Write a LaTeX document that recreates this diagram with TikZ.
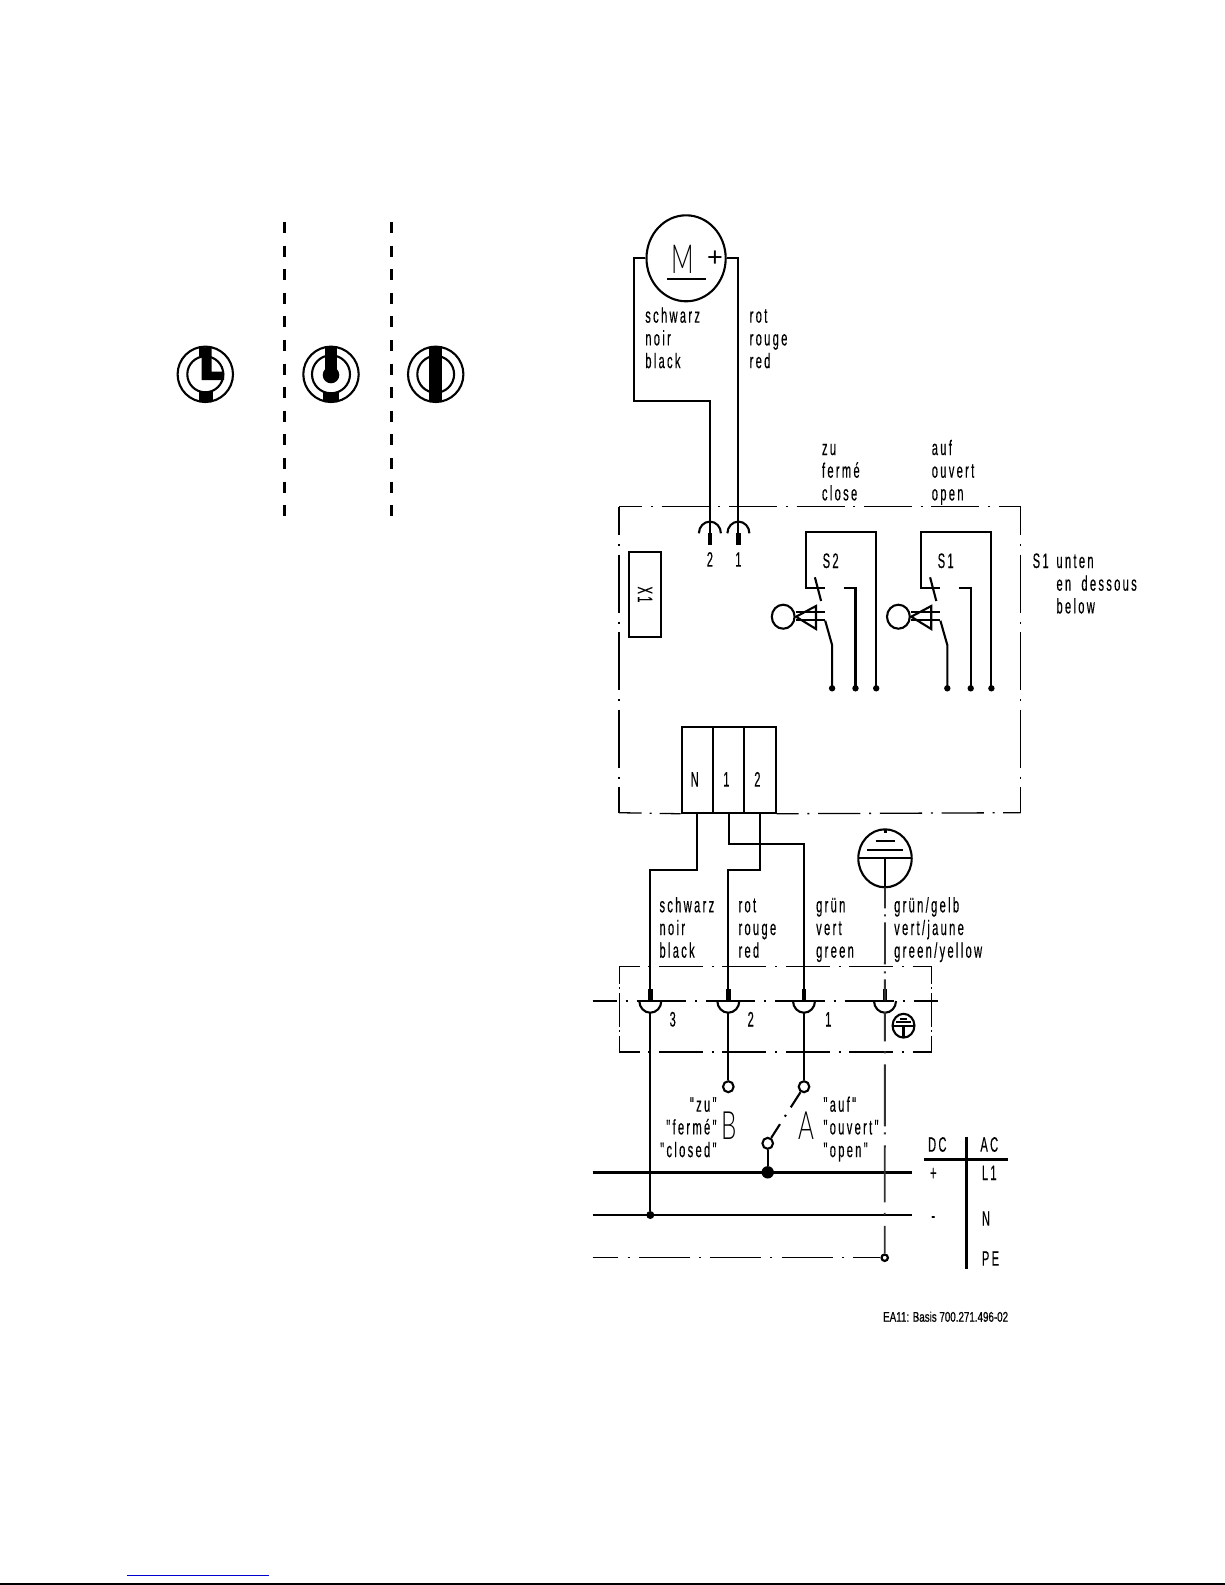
\documentclass[tikz,border=0pt]{standalone}
\usepackage{fontspec}
\usetikzlibrary{
    shapes.geometric,
    calc
}
\newfontfamily\wirefamily[FakeStretch = 0.53, LetterSpace = 11, FakeBold = 0.3, WordSpace = 1.9]{Liberation Sans}
\newfontfamily\thinfamily[FakeStretch = 0.62]{Lato Light}
\newfontfamily\notefamily[FakeStretch = 0.7, FakeBold = 0.6]{Liberation Sans}
\newfontfamily\signfamily{Liberation Sans}
\newcommand\wirefont{\wirefamily\fontsize{21}{22.7}\selectfont}
\definecolor{linkblue}{RGB}{0, 0, 204}
\tikzset {
    wire/.style = {line width = 2.1pt},
    thin wire/.style = {line width = 1.3pt},
    bus/.style = {line width = 2.8pt},
    cut line/.style = {line width = 3pt, dash pattern = on 11pt off 12.6pt},
    dash dot/.style 2 args = {
        line width = 1.3pt,
        dash pattern = on #1pt off 8.7pt on 2pt off 8.7pt,
        dash phase = #2pt
    },
    lettering/.style = {font = \wirefont, inner sep = 0pt},
    wire text/.style = {lettering, anchor = base west, align = left},
    solder/.style = {circle, fill, inner sep = 0pt, minimum size = 6.4pt},
    open end/.style = {
        ellipse, draw, fill = white, line width = 2.1pt,
        inner sep = 0pt, minimum width = 10.6pt, minimum height = 11pt
    },
    plug cell/.style = {draw, wire, inner sep = 0pt, minimum width = 31.3pt, minimum height = 86pt},
    %
    ring l/.pic = {
        \draw [wire] (0, 0) circle [radius = 27.7];
        \draw [wire] (0, 0) circle [radius = 18];
        \fill (-6.2, -27) -- (6.2, -27) -- (6.2, -2.7) -- (18.7, -2.7)
            -- (18.7, 5.7) -- (-3.7, 5.7) -- (-3.7, -18) -- (-6.2, -18) -- cycle;
        \fill (-6.7, 17.3) rectangle (7.3, 27);
    },
    ring dot/.pic = {
        \draw [wire] (0, 0) circle [radius = 27.7];
        \draw [wire] (0, 0) circle [radius = 19];
        \fill (-6, -27) rectangle (6, 0);
        \fill (0, 0.7) circle [radius = 8.3];
        \fill (-8, 17.3) rectangle (8, 27);
    },
    ring bar/.pic = {
        \draw [wire] (0, 0) circle [radius = 27.7];
        \draw [wire] (0, 0) circle [radius = 18.4];
        \fill (-6.5, -27.3) rectangle (6.5, 27.3);
    },
    limit switch/.pic = {
        \draw [wire] (70.6, 156.6) -- (70.6, 0) -- (0, 0) -- (0, 56.6) -- (18.9, 56.6);
        \draw [wire] (37.9, 56.6) -- (49.9, 56.6) -- (49.9, 156.6);
        \draw [wire] (9.3, 45.6) -- (15.5, 69.3);
        \draw [wire] (19.6, 89) -- (26.5, 113.3) -- (26.5, 156.6);
        \draw [wire] (-9.6, 80) -- (18.9, 80);
        \draw [wire] (-9.6, 88) -- (18.9, 88);
        \draw [wire] (-22.4, 85) circle [x radius = 11.4, y radius = 12];
        \draw [wire] (-9.6, 85) -- (10.4, 74.3) -- (10.4, 97.3) -- cycle;
        \fill (26.5, 156.6) circle [radius = 3.2];
        \fill (49.9, 156.6) circle [radius = 3.2];
        \fill (70.6, 156.6) circle [radius = 3.2];
    },
    earth sign/.pic = {
        \draw [wire] (0, 0) circle [x radius = 26.7, y radius = 29];
        \draw [wire] (-26.7, 0) -- (26.7, 0);
        \draw [wire] (-18, -8.3) -- (18, -8.3);
        \draw [wire] (-9.5, -17.3) -- (9.5, -17.3);
        \draw [wire] (0, 0) -- (0, 29);
        \fill (-1.5, -29) rectangle (1.5, -25);
    }
}
\begin{document}
\begin{tikzpicture}[x = 1pt, y = -1pt]
    \useasboundingbox (0, 0) rectangle (1225, 1585);
    % switch positions
    \coordinate (cut a top) at (284.3, 222);
    \coordinate (cut a bot) at (284.3, 516);
    \coordinate (cut b top) at (391.3, 222);
    \coordinate (cut b bot) at (391.3, 516);
    \draw [cut line] (cut a top) -- (cut a bot);
    \draw [cut line] (cut b top) -- (cut b bot);
    \pic at (205.3, 374.3) {ring l};
    \pic at (331, 374.3) {ring dot};
    \pic at (435.7, 374.3) {ring bar};
    % motor
    \node (motor) [ellipse, draw, wire, inner sep = 0pt, minimum width = 79.2pt, minimum height = 86pt] at (686.1, 258.3) {};
    \node (mot m) [font = \thinfamily\fontsize{40}{40}\selectfont, inner sep = 0pt] at (682.3, 259.6) {M};
    \node (mot p) [font = \signfamily\fontsize{27}{27}\selectfont, inner sep = 0pt] at (715, 258.3) {+};
    \coordinate (mot a) at (666.8, 279.3);
    \coordinate (mot b) at (706.4, 279.3);
    \draw [wire] (mot a) -- (mot b);
    \coordinate (pin two) at (709.9, 533.3);
    \coordinate (pin one) at (738.4, 533.3);
    \coordinate (blk turn) at (634.4, 401);
    \draw [wire] (motor.west) -| (blk turn) -| (pin two);
    \draw [wire] (motor.east) -| (pin one);
    \node (t1) [wire text] at (645.1, 368.1) {schwarz\\noir\\black};
    \node (t2) [wire text] at (749.5, 368.1) {rot\\rouge\\red};
    \node (t3) [wire text] at (821.8, 500.4) {zu\\ferm\'e\\close};
    \node (t4) [wire text] at (931.6, 500.4) {auf\\ouvert\\open};
    % upper housing
    \coordinate (up nw) at (619, 506.7);
    \coordinate (up ne) at (1020.5, 506.7);
    \coordinate (up sw) at (619, 812.7);
    \coordinate (up se) at (1020.5, 812.7);
    \draw [dash dot = {48}{24.7}] (up nw) -- (up ne);
    \draw [dash dot = {58.1}{29.5}] (up nw) -- (up sw);
    \draw [dash dot = {58.1}{29.5}] (up ne) -- (up se);
    \foreach \pin/\lab in {pin two/2, pin one/1} {
        \draw [wire] ($(\pin) + (-11, 0)$) arc [start angle = 180, end angle = 0, x radius = 11pt, y radius = 11.7pt];
        \fill ($(\pin) + (-2.2, 0)$) rectangle ($(\pin) + (2.2, 12)$);
        \node [lettering, anchor = base] at ($(\pin) + (0, 33.4)$) {\lab};
    }
    \node (x1) [draw, wire, minimum width = 85.6pt, minimum height = 32pt, inner sep = 0pt, rotate = -90, font = \wirefont] at (645, 594.5) {X1};
    \pic at (805.6, 531.7) {limit switch};
    \pic at (920.8, 531.7) {limit switch};
    \node (s2) [wire text] at (822.5, 568) {S2};
    \node (s1) [wire text] at (937.5, 568) {S1};
    \node (s1b) [wire text] at (1032.5, 568) {S1};
    \node (t5) [wire text] at (1056.3, 613.4) {unten\\en dessous\\below};
    % plug
    \node (plug n) [plug cell] at (697.35, 769.7) {};
    \node (plug a) [plug cell] at (728.65, 769.7) {};
    \node (plug b) [plug cell] at (760, 769.7) {};
    \node (lab n) [lettering] at (694.7, 779.3) {N};
    \node (lab 1) [lettering] at (726.4, 779.3) {1};
    \node (lab 2) [lettering] at (757.4, 779.3) {2};
    \draw [thin wire, dash pattern = on 22.7pt off 8pt on 2pt off 8pt on 30pt] (up sw) -- (plug n.south west);
    \draw [dash dot = {42.3}{20.3}] (plug b.south east) -- (up se);
    % earth
    \pic at (885, 858.3) {earth sign};
    \coordinate (gnd low) at (885, 887.3);
    % terminal block
    \coordinate (tb nw) at (619.3, 966.7);
    \coordinate (tb ne) at (931.7, 966.7);
    \coordinate (tb sw) at (619.3, 1052);
    \coordinate (tb se) at (931.7, 1052);
    \draw [dash dot = {44}{23.7}] (tb nw) -- (tb ne);
    \draw [dash dot = {44}{23.7}] (tb sw) -- (tb se);
    \draw [thin wire, dash pattern = on 17.3pt off 3.3pt on 2pt off 3.7pt on 33.7pt off 3.3pt on 2pt off 4pt on 16pt] (tb nw) -- (tb sw);
    \draw [thin wire, dash pattern = on 17.3pt off 3.3pt on 2pt off 3.7pt on 33.7pt off 3.3pt on 2pt off 4pt on 16pt] (tb ne) -- (tb se);
    \coordinate (tb w) at (592.7, 1001);
    \coordinate (tb e) at (937.7, 1001);
    \draw [thin wire, dash pattern = on 49.3pt off 9pt on 2pt off 9pt, dash phase = 25.3pt] (tb w) -- (tb e);
    \coordinate (term c) at (650.3, 1001);
    \coordinate (term b) at (728.3, 1001);
    \coordinate (term a) at (804, 1001);
    \coordinate (term g) at (885, 1001);
    \foreach \pin in {term a, term b, term c, term g} {
        \draw [wire] ($(\pin) + (-11, 0)$) arc [start angle = 180, end angle = 360, x radius = 11pt, y radius = 11.7pt];
        \fill ($(\pin) + (-2.3, -12)$) rectangle ($(\pin) + (2.3, 0)$);
    }
    \node (n3) [lettering, anchor = base] at (672.7, 1026.5) {3};
    \node (n2) [lettering, anchor = base] at (750.7, 1026.5) {2};
    \node (n1) [lettering, anchor = base] at (828.3, 1026.5) {1};
    \pic [scale = 0.41] at (903.5, 1025.7) {earth sign};
    % wires below the plug
    \coordinate (nt a) at (650.3, 870);
    \coordinate (nt b) at (804, 844);
    \coordinate (nt c) at (728.3, 870);
    \draw [wire] (plug n.south) |- (nt a) -- (term c);
    \draw [wire] (plug a.south) |- (nt b) -- (term a);
    \draw [wire] (plug b.south) |- (nt c) -- (term b);
    \node (t6) [wire text] at (659.3, 957.7) {schwarz\\noir\\black};
    \node (t7) [wire text] at (738.3, 957.7) {rot\\rouge\\red};
    \node (t8) [wire text] at (816, 957.7) {gr\"un\\vert\\green};
    \node (t9) [wire text] at (894, 957.7) {gr\"un/gelb\\vert/jaune\\green/yellow};
    % supply
    \coordinate (l1 w) at (592.7, 1172.3);
    \coordinate (l1 e) at (911.7, 1172.3);
    \coordinate (nl w) at (592.7, 1215);
    \coordinate (nl e) at (911.7, 1215);
    \coordinate (pe w) at (592.7, 1257.7);
    \draw [bus] (l1 w) -- (l1 e);
    \draw [bus] (nl w) -- (nl e);
    \node (neu dot) [solder, minimum size = 8pt] at (650.3, 1215) {};
    \node (l1 dot) [solder, minimum size = 12.4pt] at (767.7, 1172.3) {};
    \node (pe dot) [open end, line width = 2.2pt, minimum width = 6.4pt, minimum height = 6.4pt] at (884.7, 1257.7) {};
    \node (end b) [open end] at (728.3, 1086.7) {};
    \node (end a) [open end] at (804, 1086.7) {};
    \node (end c) [open end] at (767.7, 1143.3) {};
    \coordinate (low c) at (650.3, 1012.7);
    \coordinate (low b) at (728.3, 1012.7);
    \coordinate (low a) at (804, 1012.7);
    \draw [wire] (low c) -- (neu dot);
    \draw [wire] (low b) -- (end b);
    \draw [wire] (low a) -- (end a);
    \draw [wire] (end c) -- (l1 dot);
    \draw [wire, dash pattern = on 18pt off 9pt on 2pt off 9pt on 18pt] (end a) -- (end c);
    \draw [line width = 1.4pt, dash pattern = on 51pt off 9.2pt on 2pt off 9.2pt, dash phase = 25.3pt] (pe w) -- (pe dot);
    \draw [line width = 1.9pt, black!80, dash pattern = on 21pt off 6pt on 2pt off 6pt on 42pt off 7pt on 2pt off 6pt on 21pt off 11.7pt on 29.3pt off 10pt on 2pt off 11pt on 62pt off 6pt on 2pt off 11pt on 57pt off 10.5pt on 2pt off 11pt on 29pt] (gnd low) -- (pe dot);
    \node (lab b) [font = \thinfamily\fontsize{39}{39}\selectfont, inner sep = 0pt] at (729, 1125.7) {B};
    \node (lab a) [font = \thinfamily\fontsize{39}{39}\selectfont, inner sep = 0pt] at (806.7, 1125.7) {A};
    \node (t10) [lettering, anchor = base east, align = right] at (716.7, 1157.1) {"zu"\\"ferm\'e"\\"closed"};
    \node (t11) [wire text] at (823.3, 1157.1) {"auf"\\"ouvert"\\"open"};
    % table
    \coordinate (tab w) at (924.3, 1159.3);
    \coordinate (tab e) at (1008.3, 1159.3);
    \coordinate (tab t) at (966.7, 1136.7);
    \coordinate (tab b) at (966.7, 1269.3);
    \draw [bus] (tab w) -- (tab e);
    \draw [bus] (tab t) -- (tab b);
    \node (dc) [lettering, anchor = base] at (937.3, 1151.7) {DC};
    \node (ac) [lettering, anchor = base] at (989.3, 1151.7) {AC};
    \node (plus) [lettering] at (933.3, 1174) {+};
    \node (minus) [lettering] at (933.3, 1219.3) {-};
    \node (l1) [wire text] at (981.7, 1180) {L1};
    \node (nn) [wire text] at (981.7, 1225.7) {N};
    \node (pe) [wire text] at (981.7, 1265.7) {PE};
    \node (foot) [font = \notefamily\fontsize{14}{14}\selectfont, inner sep = 0pt, anchor = base east] at (1008.3, 1321.7) {EA11: Basis 700.271.496-02};
    % page edge
    \coordinate (link a) at (127, 1575.3);
    \coordinate (link b) at (269, 1575.3);
    \coordinate (edge a) at (0, 1584);
    \coordinate (edge b) at (1225, 1584);
    \draw [linkblue, line width = 1.1pt] (link a) -- (link b);
    \draw [line width = 2pt] (edge a) -- (edge b);
\end{tikzpicture}
\end{document}
